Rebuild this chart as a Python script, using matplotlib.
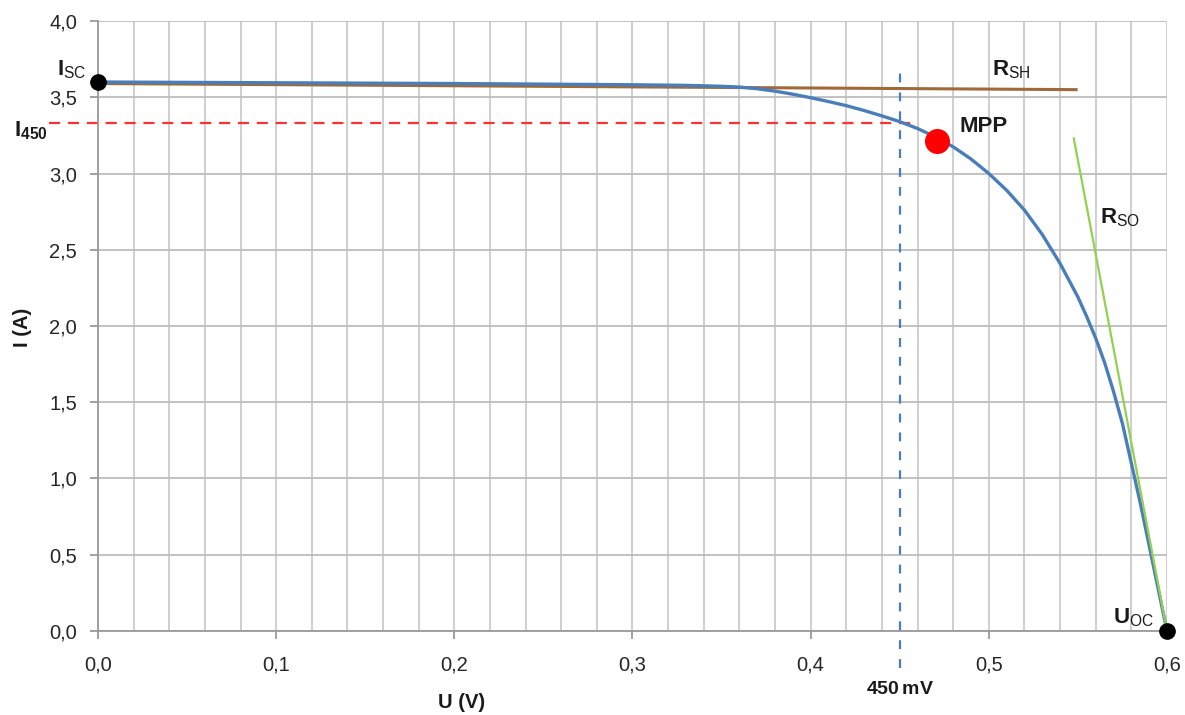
import numpy as np
import matplotlib.pyplot as plt
from matplotlib.ticker import MultipleLocator, FuncFormatter

plt.rcParams['font.family'] = ['Liberation Sans', 'DejaVu Sans']
plt.rcParams['mathtext.fontset'] = 'custom'
plt.rcParams['mathtext.rm'] = 'Liberation Sans'
plt.rcParams['mathtext.bf'] = 'Liberation Sans:bold'

# I-U Kennlinie
u_volt = [0.0, 0.10, 0.20, 0.30, 0.33, 0.35, 0.36, 0.37, 0.38, 0.39, 0.40, 0.41,
          0.42, 0.43, 0.44, 0.45, 0.46, 0.47, 0.48, 0.49, 0.50, 0.51, 0.52,
          0.53, 0.54, 0.55, 0.555, 0.56, 0.565, 0.57, 0.575, 0.58, 0.585, 0.59, 0.595, 0.60]
i_amp = [3.60, 3.595, 3.59, 3.582, 3.578, 3.572, 3.567, 3.556, 3.54, 3.52, 3.497, 3.472,
         3.445, 3.413, 3.378, 3.34, 3.295, 3.24, 3.175, 3.095, 3.00, 2.89, 2.76,
         2.60, 2.41, 2.19, 2.06, 1.92, 1.76, 1.57, 1.36, 1.10, 0.84, 0.56, 0.28, 0.0]

# Tangenten
rsh_u = [0.0, 0.549]
rsh_i = [3.59, 3.55]
rso_u = [0.5477, 0.600]
rso_i = [3.23, 0.0]

isc = (0.0, 3.60)
uoc = (0.60, 0.0)
mpp = (0.471, 3.21)
u_450 = 0.45
i_450 = 3.33

fig = plt.figure(figsize=(11.85, 7.15), dpi=100)
ax = fig.add_axes([0.0827, 0.1175, 0.9021, 0.8531])

ax.set_xlim(0, 0.6)
ax.set_ylim(0, 4.0)
ax.xaxis.set_major_locator(MultipleLocator(0.1))
ax.xaxis.set_minor_locator(MultipleLocator(0.02))
ax.yaxis.set_major_locator(MultipleLocator(0.5))
ax.xaxis.set_major_formatter(FuncFormatter(lambda v, p: f"{v:.1f}".replace('.', ',')))
ax.yaxis.set_major_formatter(FuncFormatter(lambda v, p: f"{v:.1f}".replace('.', ',')))

ax.grid(which='both', axis='x', color='#cccccc', lw=1.3)
ax.grid(which='major', axis='y', color='#bdbdbd', lw=1.3)
ax.set_axisbelow(True)
for s in ['top', 'right']:
    ax.spines[s].set_visible(False)
for s in ['left', 'bottom']:
    ax.spines[s].set_color('#9a9a9a')
    ax.spines[s].set_linewidth(1.3)
ax.tick_params(axis='both', which='major', colors='#9a9a9a', labelcolor='#262626',
               labelsize=14.5, width=1.3, length=6)
ax.tick_params(axis='x', which='major', pad=12)
ax.tick_params(axis='y', which='major', pad=9)
ax.tick_params(axis='x', which='minor', length=0)

# Hilfslinien
ax.plot([-0.0275, 0.457], [i_450, i_450], color='#ff3030', lw=1.6, ls=(0, (5, 3.5)), clip_on=False)
ax.plot([u_450, u_450], [-0.24, 3.71], color='#4a7ebb', lw=1.6, ls=(0, (4, 4.5)), clip_on=False)

ax.plot(rsh_u, rsh_i, color='#a0693a', lw=2.2, zorder=3)
ax.plot(u_volt, i_amp, color='#4a7ebb', lw=2.4, zorder=4, solid_joinstyle='round')
ax.plot(rso_u, rso_i, color='#92d050', lw=1.6, zorder=5)

ax.plot(*isc, 'o', color='black', ms=11, clip_on=False, zorder=6)
ax.plot(*uoc, 'o', color='black', ms=11, clip_on=False, zorder=6)
ax.plot(*mpp, 'o', color='#ff0000', ms=17, clip_on=False, zorder=6)

lab = dict(fontsize=16, color='#1a1a1a', clip_on=False, va='center')
ax.text(-0.023, 3.68, r'$\mathbf{I}_{\mathrm{SC}}$', **lab)
ax.text(-0.047, 3.28, r'$\mathbf{I}_{\mathbf{450}}$', **lab)
ax.text(0.4837, 3.31, 'MPP', fontweight='bold', **lab)
ax.text(0.502, 3.68, r'$\mathbf{R}_{\mathrm{SH}}$', **lab)
ax.text(0.5623, 2.71, r'$\mathbf{R}_{\mathrm{SO}}$', **lab)
ax.text(0.5696, 0.09, r'$\mathbf{U}_{\mathrm{OC}}$', **lab)
ax.text(0.431, -0.385, r'$\mathbf{450\,mV}$', fontsize=14, color='#1a1a1a', va='center', clip_on=False)

ax.text(0.204, -0.47, 'U (V)', fontsize=14.5, fontweight='bold', ha='center', va='center', color='#1a1a1a', clip_on=False)
ax.text(-0.0426, 1.99, 'I (A)', fontsize=14.5, fontweight='bold', ha='center', va='center',
        rotation=90, color='#1a1a1a', clip_on=False)

fig.savefig('out.png', dpi=100)
